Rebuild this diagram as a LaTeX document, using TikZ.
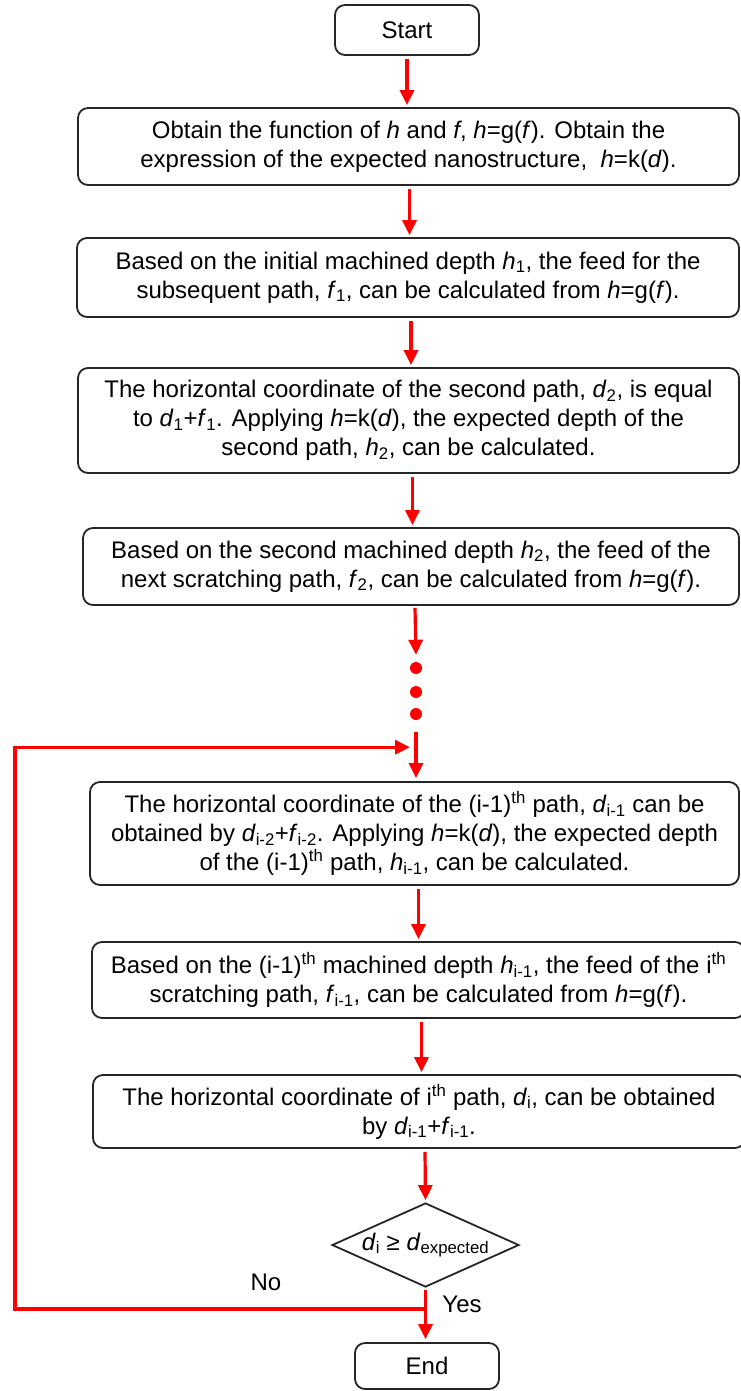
\documentclass[tikz,border=0pt]{standalone}
\usepackage{fontspec}
\setmainfont{Liberation Sans}
\usetikzlibrary{arrows.meta,shapes.geometric,calc}
\newcommand{\vi}[1]{\textit{#1}}
\newcommand{\sub}[1]{\textsubscript{#1}}
\newcommand{\supth}[1]{\textsuperscript{#1}}
\begin{document}
\begin{tikzpicture}[x=1pt,y=-1pt,
  box/.style={draw=black!85, line width=1.8pt, rounded corners=10pt, align=center, inner sep=0pt,
              font=\fontsize{24}{29}\selectfont},
  arr/.style={draw=red, line width=3.2pt, -{Triangle[length=15pt,width=14pt]}},
  redline/.style={draw=red, line width=3.2pt},
  dot/.style={circle, fill=red, inner sep=0pt, minimum size=12pt},
  lbl/.style={font=\fontsize{24}{28}\selectfont, inner sep=0pt},
  dec/.style={diamond, draw=black!85, line width=1.8pt, inner sep=0pt, minimum width=187pt, minimum height=84pt, aspect=2.2,
              font=\fontsize{24}{28}\selectfont}]
\useasboundingbox (0,0) rectangle (740,1391);
\fill[white] (0,0) rectangle (740,1391);

\node[box, minimum width=144pt, minimum height=50pt] (start) at (407,30) {Start};

\node[box, minimum width=661pt, minimum height=77pt] (b1) at (408.5,146.5)
 {Obtain the function of \vi{h} and \vi{f}, \vi{h}=g(\vi{f}). Obtain the\\
  expression of the expected nanostructure,\ \ \vi{h}=k(\vi{d}).};

\node[box, minimum width=662pt, minimum height=79pt] (b2) at (408,277.5)
 {Based on the initial machined depth \vi{h}\sub{1}, the feed for the\\
  subsequent path, \vi{f}\sub{1}, can be calculated from \vi{h}=g(\vi{f}).};

\node[box, minimum width=661pt, minimum height=105pt] (b3) at (408.5,420.5)
 {The horizontal coordinate of the second path, \vi{d}\sub{2}, is equal\\
  to \vi{d}\sub{1}+\vi{f}\sub{1}. Applying \vi{h}=k(\vi{d}), the expected depth of the\\
  second path, \vi{h}\sub{2}, can be calculated.};

\node[box, minimum width=656pt, minimum height=77pt] (b4) at (411,566.5)
 {Based on the second machined depth \vi{h}\sub{2}, the feed of the\\
  next scratching path, \vi{f}\sub{2}, can be calculated from \vi{h}=g(\vi{f}).};

\node[dot] (d1) at (416,668) {};
\node[dot] (d2) at (416,692) {};
\node[dot] (d3) at (416,714) {};

\node[box, minimum width=649pt, minimum height=103pt] (b5) at (414.5,833.5)
 {The horizontal coordinate of the (i-1)\supth{th} path, \vi{d}\sub{i-1} can be\\
  obtained by \vi{d}\sub{i-2}+\vi{f}\sub{i-2}. Applying \vi{h}=k(\vi{d}), the expected depth\\
  of the (i-1)\supth{th} path, \vi{h}\sub{i-1}, can be calculated.};

\node[box, minimum width=653pt, minimum height=76pt] (b6) at (418.5,980)
 {Based on the (i-1)\supth{th} machined depth \vi{h}\sub{i-1}, the feed of the i\supth{th}\\
  scratching path, \vi{f}\sub{i-1}, can be calculated from \vi{h}=g(\vi{f}).};

\node[box, minimum width=652pt, minimum height=73pt] (b7) at (419,1111.5)
 {The horizontal coordinate of i\supth{th} path, \vi{d}\sub{i}, can be obtained\\
  by \vi{d}\sub{i-1}+\vi{f}\sub{i-1}.};

\node[dec] (dc) at (425.5,1245) {\vi{d}\sub{i} ≥ \vi{d}\sub{expected}};

\node[box, minimum width=144pt, minimum height=46pt] (end) at (427,1366) {End};

\node[lbl] (no) at (266,1282) {No};
\node[lbl] (yes) at (462,1304) {Yes};

% main chain
\draw[arr] ([yshift=-3pt]start.south) -- ([yshift=2pt]start.south |- b1.north);
\draw[arr] ([xshift=1pt,yshift=-3pt]b1.south) -- ([xshift=1pt,yshift=2pt]b1.south |- b2.north);
\draw[arr] ([xshift=3pt,yshift=-3pt]b2.south) -- ([xshift=3pt,yshift=2pt]b2.south |- b3.north);
\draw[arr] ([xshift=4pt,yshift=-3pt]b3.south) -- ([xshift=4pt,yshift=2pt]b3.south |- b4.north);
\draw[arr] ([xshift=4pt,yshift=-2pt]b4.south) -- ([yshift=7pt]d1.north);
\coordinate (ls) at ([yshift=-12pt]d3.south);
\draw[arr] (ls) -- ([yshift=3pt]ls |- b5.north);
\draw[arr] ([xshift=4pt,yshift=-3pt]b5.south) -- ([xshift=4pt,yshift=2pt]b5.south |- b6.north);
\draw[arr] ([xshift=3pt,yshift=-3pt]b6.south) -- ([xshift=3pt,yshift=2pt]b6.south |- b7.north);
\draw[arr] ([xshift=6pt,yshift=-3pt]b7.south) -- ([yshift=2pt]dc.north);
\draw[arr] ([yshift=-2pt]dc.south) -- ([yshift=3pt]dc.south |- end.north);

% loop back
\coordinate (jn) at ([yshift=-21pt]dc.south);
\coordinate (lc) at (15,0);
\coordinate (tip) at ([xshift=-6pt,yshift=-15pt]ls);
\draw[redline] (jn) -- (jn -| lc) -- (lc |- tip);
\draw[arr] ([xshift=-1.6pt]lc |- tip) -- (tip);
\end{tikzpicture}
\end{document}
